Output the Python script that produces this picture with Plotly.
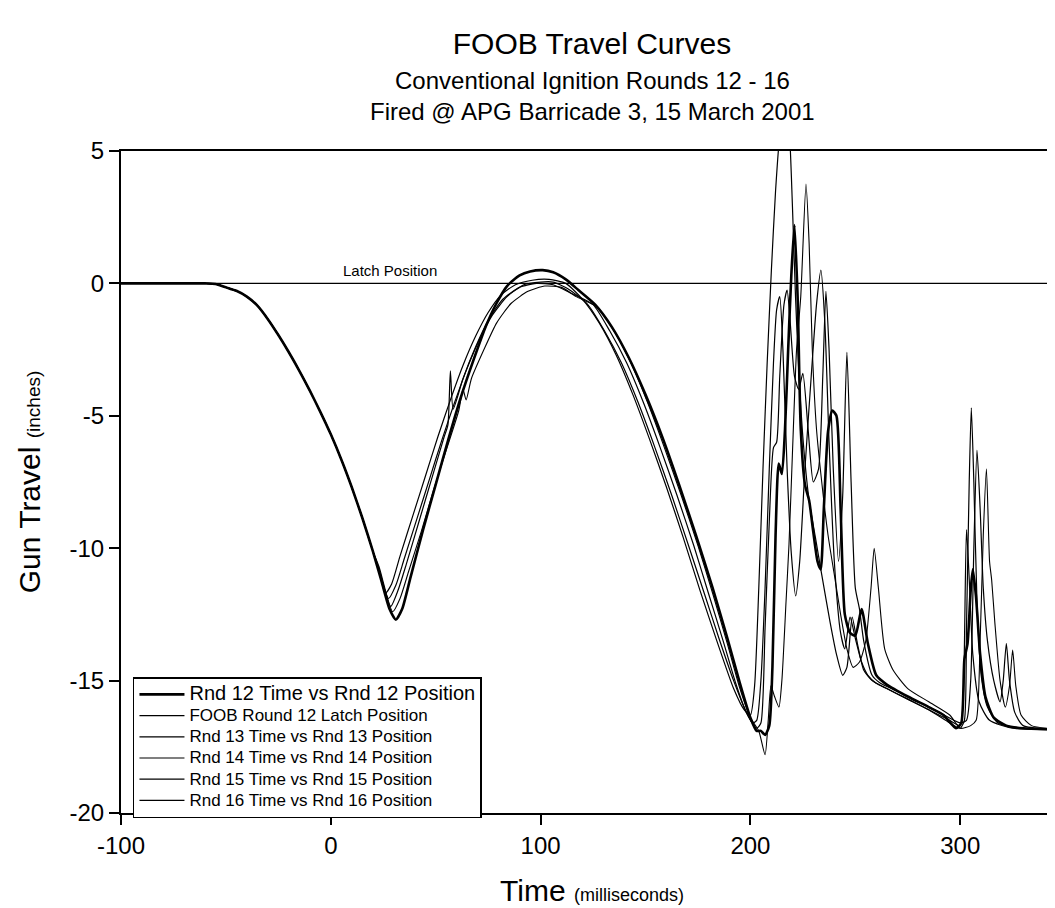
import plotly.graph_objects as go

# ---- data (time in ms, travel in inches) ----
common_t = [-100, -75, -60, -55, -50, -45, -40, -35, -30, -25, -20, -15, -10, -5, 0, 5, 10, 15, 20]
common_y = [0, 0, 0, -0.02, -0.15, -0.28, -0.5, -0.84, -1.35, -1.95, -2.6, -3.3, -4.05, -4.85, -5.7, -6.65, -7.7, -8.85, -10.1]

r12_t = [24, 28, 31, 34, 38, 44, 50, 56, 62, 68, 74, 79, 84, 90, 95, 101, 106, 112, 118, 126, 134, 142, 150,
         158, 166, 174, 182, 189, 195, 200, 203, 205, 207, 209, 210.5, 212, 213.5, 215, 216.5, 218, 219.5, 221,
         222.5, 224, 226, 228, 230, 232, 233.5, 235, 237, 239, 241, 243, 245, 247.5, 250, 253, 256, 260, 265,
         275, 285, 292, 298, 300.5, 302, 303.5, 305, 306, 307.5, 309.5, 312, 316, 322, 330, 349]
r12_y = [-11.2, -12.3, -12.7, -12.3, -11.1, -9.3, -7.6, -5.9, -4.3, -2.9, -1.6, -0.75, -0.1, 0.3, 0.45, 0.5, 0.42,
         0.15, -0.25, -0.8, -1.65, -2.8, -4.2, -5.8, -7.6, -9.5, -11.5, -13.4, -15.1, -16.4, -16.9, -16.9, -17.05,
         -16.7, -14.5, -9.5, -6.8, -7.2, -5.5, -2.5, 0.3, 2.2, -0.5, -5.5, -7.6, -8.2, -9.4, -10.5, -10.8, -8.5,
         -5.6, -4.8, -5.0, -8.5, -12.5, -13.2, -13.3, -12.3, -13.6, -14.8, -15.15, -15.6, -16.0, -16.3, -16.8,
         -16.6, -14.2, -13.6, -11.6, -10.8, -11.8, -14.0, -15.6, -16.4, -16.7, -16.8, -16.85]

r13_t = [23, 26, 29, 33, 39, 45, 51, 57, 63, 69, 75, 81, 88, 96, 104, 112, 120, 128, 136, 144, 152, 160, 168,
         176, 184, 192, 197, 200, 202, 204, 206, 208, 210, 212, 214, 216.5, 218.5, 220, 221.5, 223, 225, 228,
         231, 234, 238, 241, 244, 246, 248.5, 251, 254, 258, 265, 275, 285, 295, 300, 302, 303, 304.3, 305.3,
         306.5, 308, 310, 313, 318, 330, 349]
r13_y = [-10.9, -11.7, -11.35, -10.3, -8.8, -7.3, -5.8, -4.4, -3.1, -2.0, -1.1, -0.45, -0.05, 0.12, 0.15, 0.0,
         -0.6, -1.5, -2.7, -4.2, -5.9, -7.7, -9.6, -11.6, -13.5, -15.3, -16.1, -16.3, -15.2, -11.5, -7.0, -3.0,
         0.5, 3.5, 5.6, 6.8, 5.8, 3.0, -0.5, -3.2, -5.8, -8.2, -9.6, -11.0, -12.8, -14.0, -14.8, -14.5, -12.6,
         -13.6, -14.6, -15.0, -15.3, -15.7, -16.1, -16.6, -16.8, -16.5, -13.0, -7.5, -4.7, -7.5, -12.0, -14.8,
         -16.0, -16.6, -16.8, -16.85]

r14_t = [23, 27.5, 31, 35, 41, 47, 53, 59, 65, 71, 77, 84, 92, 100, 106, 113, 122.5, 130.5, 138.5, 146.5,
         154.5, 162.5, 170.5, 178, 185, 192, 197, 201, 203, 205, 207, 209, 211, 212.5, 214, 215.5, 217.5, 219.5,
         221.6, 223.5, 226, 229, 231.5, 233.6, 235.5, 237.5, 240, 243, 245, 247.5, 250, 253, 256, 260, 265, 275,
         285, 295, 300, 301.5, 303, 304.5, 306, 309, 314, 325, 349]
r14_y = [-10.85, -11.9, -11.4, -10.4, -8.9, -7.4, -5.9, -4.5, -3.2, -2.1, -1.2, -0.5, -0.05, 0.05, 0.05, -0.2,
         -0.8, -1.8, -3.0, -4.5, -6.2, -8.0, -9.9, -11.7, -13.4, -15.0, -16.0, -16.6, -16.5, -15.0, -11.5, -7.0,
         -3.0, -1.0, -0.5, -2.5, -7.0, -10.2, -11.8, -10.5, -7.0, -3.5, -0.8, 0.5, -1.5, -6.0, -10.5, -13.2,
         -13.8, -12.6, -13.4, -14.3, -14.8, -15.1, -15.3, -15.7, -16.1, -16.5, -16.7, -15.5, -9.3, -11.5, -14.0,
         -15.8, -16.5, -16.8, -16.85]

r15_t = [23, 28.5, 32, 36, 42, 48, 54, 55.8, 57, 58.3, 63, 69, 75, 82, 90, 98, 106, 114, 125, 133, 141, 149,
         157, 165, 173, 180, 187, 193, 198, 203, 205, 207, 209, 211, 212.5, 214, 216, 217.5, 219, 221, 223, 225,
         227.5, 230, 232.5, 234.5, 236, 237.5, 239.5, 242, 244, 246, 248, 250, 252, 254, 258, 262, 270, 280, 290,
         300, 303, 305, 306.5, 308, 309.5, 311, 313, 316, 319, 320.5, 322, 323.5, 326, 330, 349]
r15_y = [-10.8, -12.2, -11.6, -10.6, -9.0, -7.4, -5.8, -5.35, -3.3, -4.75, -3.6, -2.4, -1.4, -0.6, -0.15, 0.0,
         -0.05, -0.35, -0.8, -1.8, -3.0, -4.5, -6.2, -8.0, -9.9, -11.7, -13.5, -15.1, -16.2, -16.8, -16.6, -13.0,
         -9.0, -6.2, -6.0, -3.5, -0.8, -0.25, -1.5, -3.5, -4.0, -3.4, -5.5, -7.5, -7.0, -3.5, -0.3, -2.5, -7.0,
         -10.5, -8.0, -2.6, -7.5, -11.5, -12.3, -13.5, -14.8, -15.1, -15.4, -15.8, -16.2, -16.6, -16.5, -15.0,
         -10.0, -6.3, -8.5, -11.5, -13.5, -15.0, -15.8, -15.0, -13.6, -15.0, -16.2, -16.7, -16.85]

r16_t = [23, 29.5, 33, 37, 43, 49, 55, 61, 63, 64.5, 67, 73, 79, 86, 94, 102, 110, 117, 127, 135, 143, 151,
         159, 167, 175, 182, 189, 195, 200, 204, 207, 208.5, 209.8, 211.5, 213.6, 215, 217, 218.4, 220, 222, 224,
         226.5, 228, 229.5, 231.5, 234, 237, 240, 243, 246, 249, 252, 255, 257.5, 259, 261, 264, 268, 275, 285,
         295, 300, 305, 307.6, 309.5, 311, 312.5, 314, 315, 316.5, 319, 321.5, 323.5, 325, 326.5, 329, 334, 349]
r16_y = [-10.7, -12.4, -11.9, -10.9, -9.4, -7.8, -6.3, -4.8, -4.0, -4.4, -3.6, -2.5, -1.5, -0.75, -0.3, -0.1,
         -0.15, -0.5, -0.9, -1.8, -3.0, -4.5, -6.2, -8.0, -9.9, -11.7, -13.6, -15.3, -16.4, -16.9, -17.8, -16.5,
         -15.2, -15.6, -16.0, -15.0, -12.0, -9.85, -6.5, -2.5, -0.5, 3.75, 1.5, -2.5, -5.5, -7.5, -9.5, -11.0,
         -12.5, -13.8, -14.5, -14.3, -13.5, -11.5, -10.0, -11.5, -13.8, -14.6, -15.3, -15.8, -16.3, -16.8,
         -16.7, -16.5, -13.5, -9.5, -7.0, -10.5, -11.2, -12.8, -15.0, -16.0, -15.2, -13.85, -15.2, -16.3, -16.7,
         -16.85]

latch_t = [-100, 349]
latch_y = [0, 0]

x_ticks = [-100, 0, 100, 200, 300]
x_tick_text = ["-100", "0", "100", "200", "300"]
y_ticks = [-20, -15, -10, -5, 0, 5]
y_tick_text = ["-20", "-15", "-10", "-5", "0", "5"]

FONT = "Liberation Sans, Arial, Helvetica, sans-serif"

fig = go.Figure()


def add_round(name, t, y, width):
    fig.add_trace(go.Scatter(
        x=common_t + t, y=common_y + y, mode="lines", name=name,
        line=dict(color="black", width=width, shape="spline", smoothing=0.6),
    ))


def legend_label(text, size=17):
    return "<span style='font-size:%dpx'>%s</span>" % (size, text)


add_round(legend_label("Rnd 12 Time vs Rnd 12 Position", 20), r12_t, r12_y, 2.6)
fig.add_trace(go.Scatter(x=latch_t, y=latch_y, mode="lines", name=legend_label("FOOB Round 12 Latch Position"),
                         line=dict(color="black", width=1.4)))
add_round(legend_label("Rnd 13 Time vs Rnd 13 Position"), r13_t, r13_y, 1.2)
add_round(legend_label("Rnd 14 Time vs Rnd 14 Position"), r14_t, r14_y, 1.2)
add_round(legend_label("Rnd 15 Time vs Rnd 15 Position"), r15_t, r15_y, 1.2)
add_round(legend_label("Rnd 16 Time vs Rnd 16 Position"), r16_t, r16_y, 1.1)

fig.add_annotation(x=28.4, y=0.49, xref="x", yref="y", text="Latch Position", showarrow=False,
                   font=dict(family=FONT, size=15, color="black"))
fig.add_annotation(x=0.5, y=(805 - 72) / 662, xref="paper", yref="paper", yanchor="middle",
                   text="Conventional Ignition Rounds 12 - 16",
                   showarrow=False, font=dict(family=FONT, size=24, color="black"))
fig.add_annotation(x=0.5, y=(805 - 103) / 662, xref="paper", yref="paper", yanchor="middle",
                   text="Fired @ APG Barricade 3, 15 March 2001",
                   showarrow=False, font=dict(family=FONT, size=24, color="black"))

fig.update_layout(
    width=1055, height=908,
    margin=dict(l=113, r=0, t=143, b=103),
    paper_bgcolor="white", plot_bgcolor="white",
    font=dict(family=FONT, color="black"),
    title=dict(text="FOOB Travel Curves", x=0.5, xref="paper", xanchor="center",
               y=1 - 35 / 908, yref="container", yanchor="middle",
               font=dict(family=FONT, size=30, color="black")),
    showlegend=True,
    legend=dict(x=0.0127, y=0.205, xanchor="left", yanchor="top",
                bgcolor="white", bordercolor="black", borderwidth=1.5,
                font=dict(family=FONT, size=14, color="black"),
                tracegroupgap=0, itemwidth=45, entrywidth=355, entrywidthmode="pixels"),
    xaxis=dict(range=[-100, 349], tickvals=x_ticks, ticktext=x_tick_text, ticks="outside", ticklen=10,
               tickwidth=1.5, tickcolor="black", showline=True, linecolor="black", linewidth=2, mirror=True,
               showgrid=False, zeroline=False, tickfont=dict(family=FONT, size=24, color="black"),
               title=dict(text="Time <span style='font-size:18px'>(milliseconds)</span>",
                          font=dict(family=FONT, size=30, color="black"), standoff=22)),
    yaxis=dict(range=[-20, 5], tickvals=y_ticks, ticktext=y_tick_text, ticks="outside", ticklen=10,
               tickwidth=1.5, tickcolor="black", showline=True, linecolor="black", linewidth=2, mirror=False,
               showgrid=False, zeroline=False, tickfont=dict(family=FONT, size=24, color="black"),
               title=dict(text="Gun Travel <span style='font-size:19px'>(inches)</span>",
                          font=dict(family=FONT, size=30, color="black"), standoff=20)),
)

fig.write_html("out.html")
